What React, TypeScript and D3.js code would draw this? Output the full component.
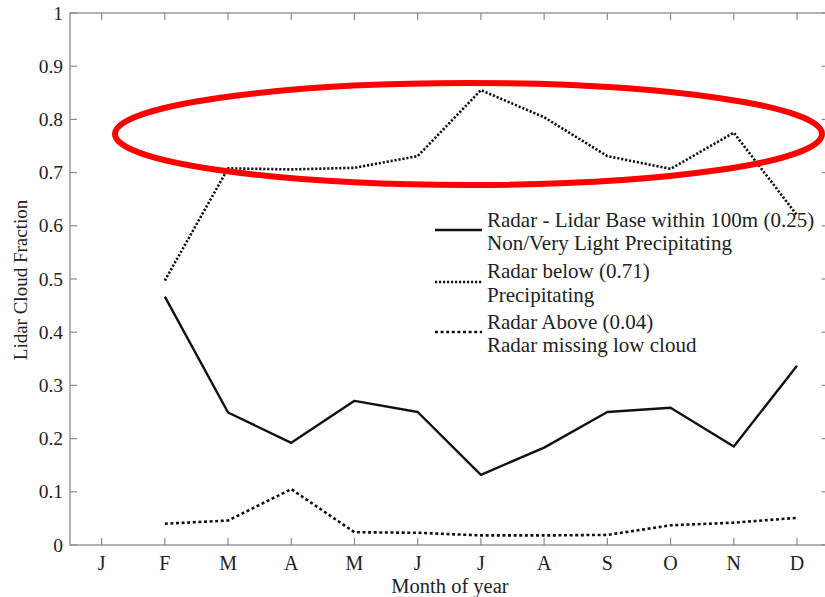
import React from "react";
import * as d3 from "d3";

// Month index 1..12 and their tick labels
const months = [1, 2, 3, 4, 5, 6, 7, 8, 9, 10, 11, 12];
const monthLabels = ["J", "F", "M", "A", "M", "J", "J", "A", "S", "O", "N", "D"];
const yTicks = [0, 0.1, 0.2, 0.3, 0.4, 0.5, 0.6, 0.7, 0.8, 0.9, 1];

// Series values, February through December
const seriesMonths = [2, 3, 4, 5, 6, 7, 8, 9, 10, 11, 12];
const baseWithin100m = [0.467, 0.249, 0.192, 0.271, 0.25, 0.132, 0.183, 0.25, 0.258, 0.185, 0.337];
const radarBelow = [0.497, 0.708, 0.706, 0.709, 0.731, 0.855, 0.804, 0.731, 0.707, 0.775, 0.62];
const radarAbove = [0.04, 0.046, 0.105, 0.024, 0.023, 0.018, 0.018, 0.019, 0.037, 0.042, 0.051];

const legendLines = [
  ["Radar - Lidar Base within 100m (0.25)", "Non/Very Light Precipitating"],
  ["Radar below (0.71)", "Precipitating"],
  ["Radar Above (0.04)", "Radar missing low cloud"],
];

const W = 825;
const H = 597;
const left = 70;
const right = 828.6;
const top = 13;
const bottom = 545;
const font = "Liberation Serif, Times New Roman, DejaVu Serif, serif";
const axisColor = "#8a8a8a";
const textStyle = { fontFamily: font };

export default function App() {
  const x = d3.scaleLinear().domain([0.5, 12.5]).range([left, right]);
  const y = d3.scaleLinear().domain([0, 1]).range([bottom, top]);

  const line = d3
    .line<[number, number]>()
    .x((d) => x(d[0]))
    .y((d) => y(d[1]));

  const pts = (vals: number[]) => seriesMonths.map((m, i) => [m, vals[i]] as [number, number]);

  const styles = [
    { data: baseWithin100m, dash: "none", width: 2.4 },
    { data: radarBelow, dash: "2.2,1.8", width: 2.6 },
    { data: radarAbove, dash: "3,2.6", width: 2.6 },
  ];

  const legendY = [230, 282, 332];
  const textY = [[227, 250], [278, 302], [329, 352]];

  return (
    <svg
      width={W}
      height={H}
      style={{ position: "absolute", left: 0, top: 0, background: "#fff" }}
    >
      <rect x={0} y={0} width={W} height={H} fill="#fff" />
      {/* axes box */}
      <rect x={left} y={top} width={right - left} height={bottom - top} fill="none" stroke={axisColor} strokeWidth={1.3} />
      {/* x ticks */}
      {months.map((m, i) => (
        <g key={"xt" + i}>
          <line x1={x(m)} x2={x(m)} y1={bottom} y2={bottom - 7} stroke={axisColor} strokeWidth={1.2} />
          <line x1={x(m)} x2={x(m)} y1={top} y2={top + 7} stroke={axisColor} strokeWidth={1.2} />
          <text x={x(m)} y={570} textAnchor="middle" fontSize={20} fill="#222" style={textStyle}>
            {monthLabels[i]}
          </text>
        </g>
      ))}
      {/* y ticks */}
      {yTicks.map((t) => (
        <g key={"yt" + t}>
          <line x1={left} x2={left + 7} y1={y(t)} y2={y(t)} stroke={axisColor} strokeWidth={1.2} />
          <line x1={right} x2={right - 7} y1={y(t)} y2={y(t)} stroke={axisColor} strokeWidth={1.2} />
          <text x={63} y={y(t) + 6.5} textAnchor="end" fontSize={19.5} fill="#222" style={textStyle}>
            {d3.format("~g")(t)}
          </text>
        </g>
      ))}
      <text x={450} y={593} textAnchor="middle" fontSize={20.5} fill="#222" style={textStyle}>
        Month of year
      </text>
      <text
        transform={`translate(27, ${y(0.5) + 1}) rotate(-90)`}
        textAnchor="middle"
        fontSize={19}
        fill="#222"
        style={textStyle}
      >
        Lidar Cloud Fraction
      </text>

      {/* data lines */}
      {styles.map((s, i) => (
        <path
          key={"s" + i}
          d={line(pts(s.data)) || ""}
          fill="none"
          stroke="#111"
          strokeWidth={s.width}
          strokeDasharray={s.dash}
          strokeLinejoin="round"
        />
      ))}

      {/* legend */}
      {styles.map((s, i) => (
        <g key={"lg" + i}>
          <line
            x1={435}
            x2={482}
            y1={legendY[i]}
            y2={legendY[i]}
            stroke="#111"
            strokeWidth={s.width}
            strokeDasharray={s.dash}
          />
          <text x={487} y={textY[i][0]} fontSize={21} fill="#222" style={textStyle}>
            {legendLines[i][0]}
          </text>
          <text x={487} y={textY[i][1]} fontSize={21} fill="#222" style={textStyle}>
            {legendLines[i][1]}
          </text>
        </g>
      ))}

      {/* highlight ellipse */}
      <ellipse cx={468.5} cy={134} rx={353.5} ry={51} fill="none" stroke="#ff0000" strokeWidth={6} />
    </svg>
  );
}
